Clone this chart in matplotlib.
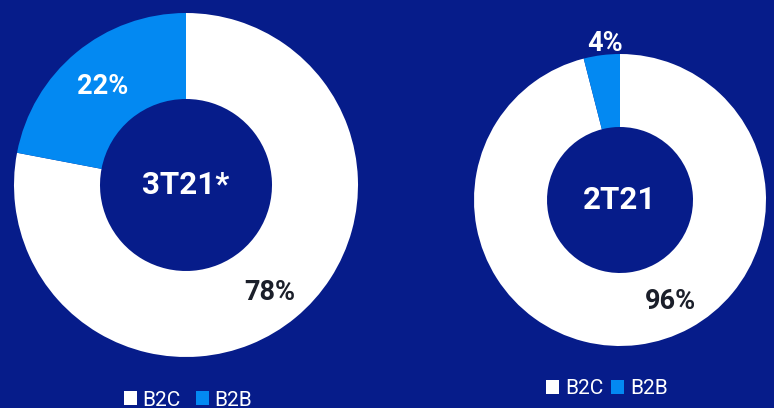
import matplotlib
matplotlib.use("Agg")
import matplotlib.pyplot as plt
from matplotlib.patches import Patch

categories = ["B2C", "B2B"]
left_values = [78, 22]
right_values = [96, 4]
left_title = "3T21*"
right_title = "2T21"

BG = "#061C8A"
WHITE = "#FFFFFF"
BLUE = "#0389F2"
DARK = "#1B1F2A"
colors = [WHITE, BLUE]

W, H = 774, 408
fig = plt.figure(figsize=(W / 100, H / 100), dpi=100, facecolor=BG)


def add_donut(cx, cy, r, values, title, label_pos, label_colors, legend_y, legend_x, colsp):
    ax = fig.add_axes([(cx - r) / W, (H - cy - r) / H, 2 * r / W, 2 * r / H])
    ax.set_facecolor(BG)
    ax.pie(values, colors=colors, startangle=90, counterclock=False, radius=1,
           wedgeprops=dict(width=0.5, edgecolor="none"))
    ax.set_xlim(-1, 1)
    ax.set_ylim(-1, 1)
    ax.set_aspect("equal")
    ax.axis("off")
    ax.text(0, 0, title, ha="center", va="center", color=WHITE,
            fontsize=22.5, fontweight="bold", family="Roboto")
    for v, (x, y), c in zip(values, label_pos, label_colors):
        ax.text(x, y, f"{v}%", ha="center", va="center", color=c,
                fontsize=19.5, fontweight="bold", family="Roboto", clip_on=False)
    handles = [Patch(facecolor=col, edgecolor="none") for col in colors]
    fig.legend(handles, categories, loc="center", bbox_to_anchor=(legend_x / W, 1 - legend_y / H),
               ncol=2, frameon=False, labelcolor=WHITE,
               prop=dict(family="Roboto", size=15),
               handlelength=0.62, handleheight=0.62, handletextpad=0.28, columnspacing=colsp,
               borderpad=0, borderaxespad=0)


r1 = 172
add_donut(186, 185, r1, left_values, left_title,
          [((270 - 186) / r1, (185 - 292) / r1), ((103 - 186) / r1, (185 - 87) / r1)],
          [DARK, WHITE], 400, 188, 0.72)
r2 = 146
add_donut(620, 200, r2, right_values, right_title,
          [((670 - 620) / r2, (200 - 302) / r2), ((605 - 620) / r2, (200 - 43) / r2)],
          [DARK, WHITE], 389, 607, 0.4)

fig.savefig("out.png", dpi=100, facecolor=BG)
